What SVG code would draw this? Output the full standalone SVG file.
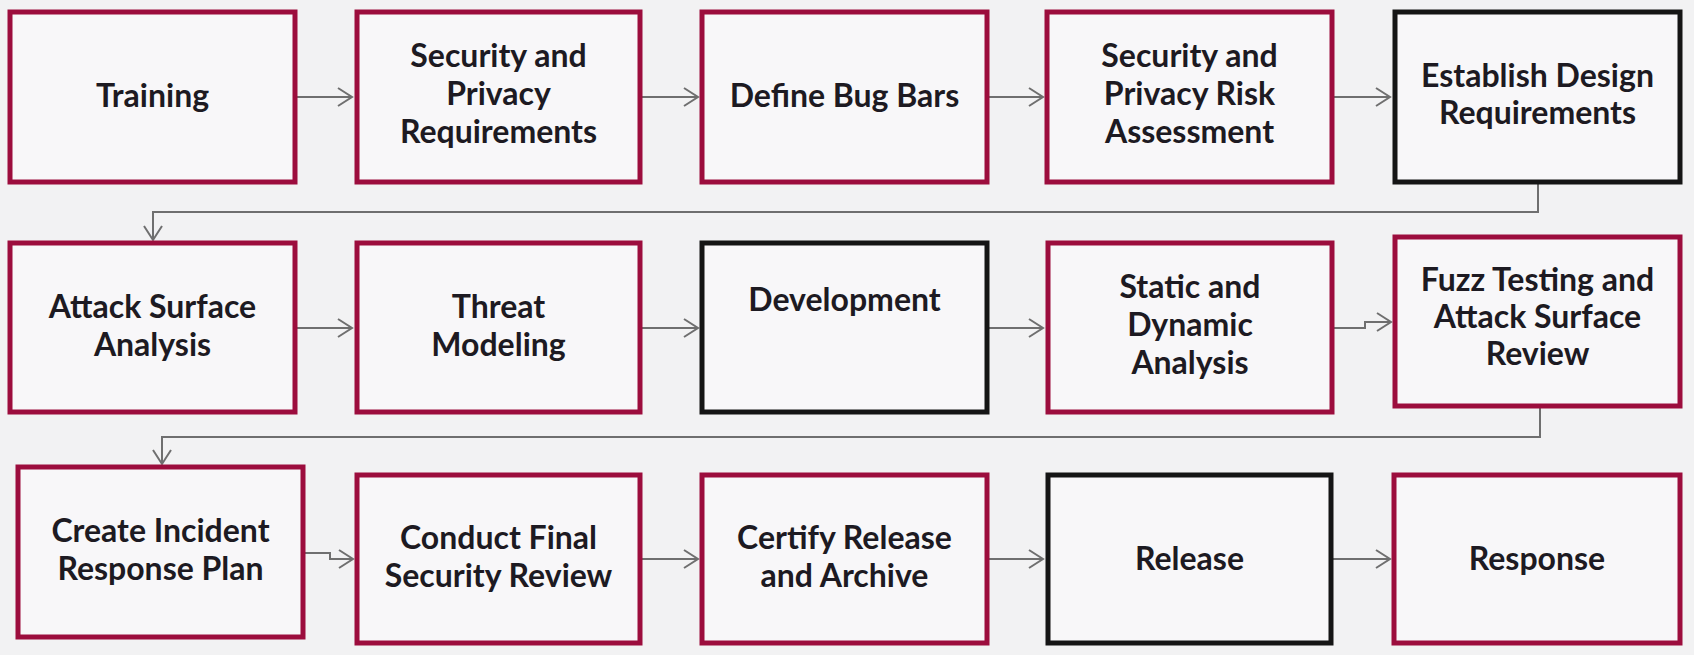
<svg xmlns="http://www.w3.org/2000/svg" width="1694" height="655" viewBox="0 0 1694 655">
<defs>
<style>
.bg{fill:#f2f2f3}
.r{fill:#f8f7f9;stroke:#9c0d3d;stroke-width:5}
.k{fill:#f8f7f9;stroke:#151515;stroke-width:5}
.t{font-family:Lato,"Open Sans","Liberation Sans",sans-serif;font-weight:700;font-size:32px;fill:#1d1a22;text-anchor:middle}
.c{fill:none;stroke:#6f6f6f;stroke-width:2}
</style>
<marker id="ah" markerUnits="userSpaceOnUse" markerWidth="18" markerHeight="20" refX="16" refY="10" orient="auto">
<path d="M2,1 L16,10 L2,19" fill="none" stroke="#6f6f6f" stroke-width="2"/>
</marker>
</defs>
<rect class="bg" x="0" y="0" width="1694" height="655"/>

<g id="connectors">
<path class="c" d="M295,97 H352" marker-end="url(#ah)"/>
<path class="c" d="M640,97 H698" marker-end="url(#ah)"/>
<path class="c" d="M987,97 H1043" marker-end="url(#ah)"/>
<path class="c" d="M1332,97 H1390" marker-end="url(#ah)"/>
<path class="c" d="M1538,182 V212 H153 V240" marker-end="url(#ah)"/>
<path class="c" d="M295,328 H352" marker-end="url(#ah)"/>
<path class="c" d="M640,328 H698" marker-end="url(#ah)"/>
<path class="c" d="M987,328 H1043" marker-end="url(#ah)"/>
<path class="c" d="M1332,328 H1365 V322 H1391" marker-end="url(#ah)"/>
<path class="c" d="M1540,406 V437 H162 V464" marker-end="url(#ah)"/>
<path class="c" d="M303,553 H330 V559 H353" marker-end="url(#ah)"/>
<path class="c" d="M640,559 H698" marker-end="url(#ah)"/>
<path class="c" d="M987,559 H1043" marker-end="url(#ah)"/>
<path class="c" d="M1331,559 H1390" marker-end="url(#ah)"/>
</g>

<g id="training"><rect class="r" x="10" y="12" width="285" height="170"/><text class="t" x="152.5" y="107">Training</text></g>
<g id="sec-priv-req"><rect class="r" x="357" y="12" width="283" height="170"/><text class="t" x="498.5" y="67">Security and</text><text class="t" x="498.5" y="105">Privacy</text><text class="t" x="498.5" y="143">Requirements</text></g>
<g id="bug-bars"><rect class="r" x="702" y="12" width="285" height="170"/><text class="t" x="844.5" y="107">Define Bug Bars</text></g>
<g id="risk-assessment"><rect class="r" x="1047" y="12" width="285" height="170"/><text class="t" x="1189.5" y="67">Security and</text><text class="t" x="1189.5" y="105">Privacy Risk</text><text class="t" x="1189.5" y="143">Assessment</text></g>
<g id="design-req"><rect class="k" x="1395" y="12" width="285" height="170"/><text class="t" x="1537.5" y="87">Establish Design</text><text class="t" x="1537.5" y="124">Requirements</text></g>

<g id="attack-surface"><rect class="r" x="10" y="243" width="285" height="169"/><text class="t" x="152.5" y="318">Attack Surface</text><text class="t" x="152.5" y="356">Analysis</text></g>
<g id="threat-modeling"><rect class="r" x="357" y="243" width="283" height="169"/><text class="t" x="498.5" y="318">Threat</text><text class="t" x="498.5" y="356">Modeling</text></g>
<g id="development"><rect class="k" x="702" y="243" width="285" height="169"/><text class="t" x="844.5" y="311">Development</text></g>
<g id="static-dynamic"><rect class="r" x="1048" y="243" width="284" height="169"/><text class="t" x="1190" y="298">Static and</text><text class="t" x="1190" y="336">Dynamic</text><text class="t" x="1190" y="374">Analysis</text></g>
<g id="fuzz-testing"><rect class="r" x="1395" y="237" width="285" height="169"/><text class="t" x="1537.5" y="291">Fuzz Testing and</text><text class="t" x="1537.5" y="328">Attack Surface</text><text class="t" x="1537.5" y="365">Review</text></g>

<g id="incident-plan"><rect class="r" x="18" y="467" width="285" height="170"/><text class="t" x="160.5" y="542">Create Incident</text><text class="t" x="160.5" y="580">Response Plan</text></g>
<g id="final-review"><rect class="r" x="357" y="475" width="283" height="168"/><text class="t" x="498.5" y="549">Conduct Final</text><text class="t" x="498.5" y="587">Security Review</text></g>
<g id="certify"><rect class="r" x="702" y="475" width="285" height="168"/><text class="t" x="844.5" y="549">Certify Release</text><text class="t" x="844.5" y="587">and Archive</text></g>
<g id="release"><rect class="k" x="1048" y="475" width="283" height="168"/><text class="t" x="1189.5" y="570">Release</text></g>
<g id="response"><rect class="r" x="1394" y="475" width="286" height="168"/><text class="t" x="1537" y="570">Response</text></g>
</svg>
